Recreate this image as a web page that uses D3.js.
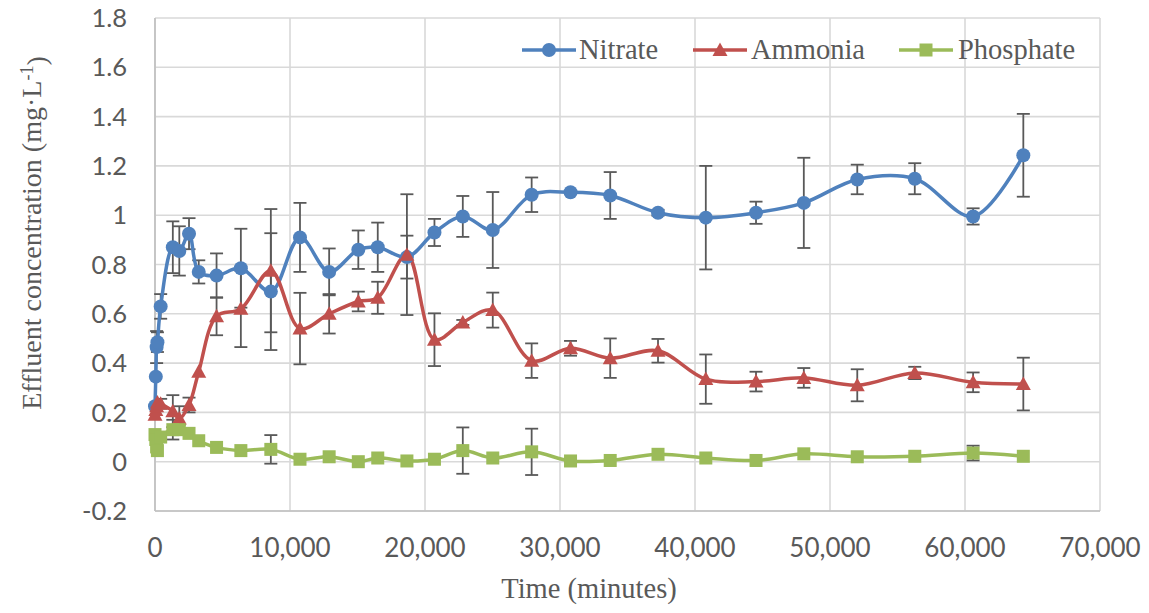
<!DOCTYPE html>
<html>
<head>
<meta charset="utf-8">
<script src="https://cdn.jsdelivr.net/npm/d3@7"></script>
<style>
  html, body { margin: 0; padding: 0; background: #fff; }
  svg { display: block; }
</style>
</head>
<body>
<svg id="chart" width="1149" height="613"></svg>
<script>
// Sampling times (minutes) shared by all three series
const timeMinutes = [0, 60, 120, 180, 420, 1320, 1800, 2520, 3240, 4560, 6360, 8580,
  10740, 12900, 15060, 16500, 18660, 20700, 22800, 25020, 27900, 30780, 33720,
  37260, 40800, 44520, 48060, 52020, 56280, 60600, 64320];

// Effluent concentrations (mg/L) and standard deviations
const nitrate = [0.225, 0.345, 0.465, 0.485, 0.63, 0.87, 0.855, 0.925, 0.77, 0.755, 0.785, 0.69,
  0.91, 0.77, 0.86, 0.87, 0.83, 0.93, 0.995, 0.94, 1.083, 1.093, 1.08,
  1.01, 0.99, 1.01, 1.05, 1.145, 1.148, 0.995, 1.243];
const nitrateSd = [0, 0, 0.065, 0.04, 0.05, 0.105, 0.1, 0.063, 0.047, 0.09, 0.16, 0.237,
  0.14, 0.095, 0.078, 0.1, 0.087, 0.055, 0.083, 0.154, 0.07, 0, 0.095,
  0.012, 0.21, 0.045, 0.183, 0.06, 0.063, 0.033, 0.168];

const ammonia = [0.19, 0.21, 0.225, 0.24, 0.235, 0.205, 0.175, 0.23, 0.365, 0.59, 0.62, 0.775,
  0.54, 0.6, 0.65, 0.665, 0.84, 0.495, 0.565, 0.615, 0.41, 0.46, 0.42,
  0.45, 0.335, 0.325, 0.34, 0.31, 0.36, 0.322, 0.315];
const ammoniaSd = [0, 0, 0, 0, 0.02, 0.065, 0.05, 0.03, 0, 0.077, 0.155, 0.25,
  0.145, 0.08, 0.04, 0.065, 0.245, 0.107, 0.01, 0.071, 0.07, 0.03, 0.08,
  0.048, 0.1, 0.04, 0.04, 0.065, 0.025, 0.04, 0.107];

const phosphate = [0.11, 0.09, 0.06, 0.045, 0.1, 0.13, 0.13, 0.115, 0.085, 0.058, 0.045, 0.05,
  0.01, 0.02, 0.0, 0.015, 0.003, 0.01, 0.045, 0.015, 0.04, 0.003, 0.005,
  0.03, 0.015, 0.005, 0.032, 0.02, 0.022, 0.035, 0.022];
const phosphateSd = [0, 0, 0, 0, 0, 0.04, 0.02, 0, 0, 0, 0, 0.058,
  0, 0, 0, 0, 0, 0, 0.094, 0, 0.094, 0, 0,
  0, 0, 0, 0, 0, 0, 0.03, 0];

// Axis ticks
const xTicks = [0, 10000, 20000, 30000, 40000, 50000, 60000, 70000];
const yTicks = [-0.2, 0, 0.2, 0.4, 0.6, 0.8, 1, 1.2, 1.4, 1.6, 1.8];
const yTickLabels = ["-0.2", "0", "0.2", "0.4", "0.6", "0.8", "1", "1.2", "1.4", "1.6", "1.8"];

const seriesNames = ["Nitrate", "Ammonia", "Phosphate"];
const seriesColors = ["#4f81bd", "#c0504d", "#9bbb59"];
const seriesShapes = ["circle", "triangle", "square"];

const series = [
  { name: seriesNames[0], values: nitrate, sd: nitrateSd, color: seriesColors[0], shape: seriesShapes[0] },
  { name: seriesNames[1], values: ammonia, sd: ammoniaSd, color: seriesColors[1], shape: seriesShapes[1] },
  { name: seriesNames[2], values: phosphate, sd: phosphateSd, color: seriesColors[2], shape: seriesShapes[2] }
];

const svg = d3.select("#chart");
const plot = { left: 155, right: 1100, top: 18, bottom: 511 };

const x = d3.scaleLinear().domain([0, 70000]).range([plot.left, plot.right]);
const y = d3.scaleLinear().domain([-0.2, 1.8]).range([plot.bottom, plot.top]);

const textGray = "#595959";
const tickFont = "Lato, 'Open Sans', sans-serif";
const titleFont = "'Liberation Serif', 'DejaVu Serif', serif";

// Gridlines
const grid = svg.append("g").attr("class", "grid");
grid.selectAll("line.h").data(yTicks).join("line")
  .attr("class", "h")
  .attr("x1", plot.left).attr("x2", plot.right)
  .attr("y1", d => y(d)).attr("y2", d => y(d))
  .attr("stroke", "#d9d9d9").attr("stroke-width", 1.6);
grid.selectAll("line.v").data(xTicks).join("line")
  .attr("class", "v")
  .attr("y1", plot.top).attr("y2", plot.bottom)
  .attr("x1", d => x(d)).attr("x2", d => x(d))
  .attr("stroke", "#d9d9d9").attr("stroke-width", 1.6);

// Axis lines
svg.append("line")
  .attr("x1", plot.left).attr("x2", plot.left)
  .attr("y1", plot.top).attr("y2", plot.bottom)
  .attr("stroke", "#bfbfbf").attr("stroke-width", 1.6);
svg.append("line")
  .attr("x1", plot.left).attr("x2", plot.right)
  .attr("y1", plot.bottom).attr("y2", plot.bottom)
  .attr("stroke", "#bfbfbf").attr("stroke-width", 1.6);

// Tick labels
svg.append("g").selectAll("text").data(yTicks).join("text")
  .attr("x", 127)
  .attr("y", d => y(d))
  .attr("dy", "0.36em")
  .attr("text-anchor", "end")
  .attr("font-family", tickFont).attr("font-size", 25.5)
  .attr("fill", textGray)
  .text((d, i) => yTickLabels[i]);

const fmtX = d3.format(",");
svg.append("g").selectAll("text").data(xTicks).join("text")
  .attr("x", d => x(d))
  .attr("y", 557)
  .attr("text-anchor", "middle")
  .attr("font-family", tickFont).attr("font-size", 26)
  .attr("fill", textGray)
  .text(d => fmtX(d));

// Axis titles
svg.append("text")
  .attr("x", 589).attr("y", 598)
  .attr("text-anchor", "middle")
  .attr("font-family", titleFont).attr("font-size", 28.5)
  .attr("fill", textGray)
  .text("Time (minutes)");

const yTitle = svg.append("text")
  .attr("transform", "translate(41,233) rotate(-90)")
  .attr("text-anchor", "middle")
  .attr("font-family", titleFont).attr("font-size", 28)
  .attr("fill", textGray);
yTitle.append("tspan").text("Effluent concentration (mg·L");
yTitle.append("tspan").attr("dy", "-0.45em").attr("font-size", 18).text("-1");
yTitle.append("tspan").attr("dy", "0.45em").text(")");

// Marker drawing
function drawMarker(sel, shape, color) {
  if (shape === "circle") {
    sel.append("circle").attr("r", 7).attr("fill", color);
  } else if (shape === "triangle") {
    sel.append("path").attr("d", "M0,-7.5L7.5,6L-7.5,6Z").attr("fill", color);
  } else {
    sel.append("rect").attr("x", -6.5).attr("y", -6.5).attr("width", 13).attr("height", 13).attr("fill", color);
  }
}

// Error bars (behind lines and markers)
const errG = svg.append("g").attr("class", "errors");
const capHalf = 6.5;
series.forEach(s => {
  const pts = timeMinutes.map((t, i) => ({ t, v: s.values[i], sd: s.sd[i] })).filter(p => p.sd > 0);
  const g = errG.append("g");
  g.selectAll("line.stem").data(pts).join("line")
    .attr("class", "stem")
    .attr("x1", p => x(p.t)).attr("x2", p => x(p.t))
    .attr("y1", p => y(p.v + p.sd)).attr("y2", p => y(p.v - p.sd));
  g.selectAll("line.capt").data(pts).join("line")
    .attr("class", "capt")
    .attr("x1", p => x(p.t) - capHalf).attr("x2", p => x(p.t) + capHalf)
    .attr("y1", p => y(p.v + p.sd)).attr("y2", p => y(p.v + p.sd));
  g.selectAll("line.capb").data(pts).join("line")
    .attr("class", "capb")
    .attr("x1", p => x(p.t) - capHalf).attr("x2", p => x(p.t) + capHalf)
    .attr("y1", p => y(p.v - p.sd)).attr("y2", p => y(p.v - p.sd));
  g.selectAll("line").attr("stroke", "#595959").attr("stroke-width", 1.8);
});

// Smoothed series lines
const line = d3.line()
  .x((d, i) => x(timeMinutes[i]))
  .y(d => y(d))
  .curve(d3.curveCatmullRom.alpha(0.5));

series.forEach(s => {
  svg.append("path")
    .datum(s.values)
    .attr("d", line)
    .attr("fill", "none")
    .attr("stroke", s.color)
    .attr("stroke-width", 3.5)
    .attr("stroke-linejoin", "round")
    .attr("stroke-linecap", "round");
});

// Markers
series.forEach(s => {
  const g = svg.append("g");
  s.values.forEach((v, i) => {
    const m = g.append("g").attr("transform", `translate(${x(timeMinutes[i])},${y(v)})`);
    drawMarker(m, s.shape, s.color);
  });
});

// Legend
const legendItems = [
  { x0: 522, tx: 579 },
  { x0: 693, tx: 751 },
  { x0: 899, tx: 958 }
];
const legendY = 50;
series.forEach((s, i) => {
  const li = legendItems[i];
  const g = svg.append("g");
  g.append("line")
    .attr("x1", li.x0).attr("x2", li.x0 + 54)
    .attr("y1", legendY).attr("y2", legendY)
    .attr("stroke", s.color).attr("stroke-width", 3.5);
  const m = g.append("g").attr("transform", `translate(${li.x0 + 27},${legendY})`);
  drawMarker(m, s.shape, s.color);
  g.append("text")
    .attr("x", li.tx).attr("y", legendY + 9)
    .attr("font-family", titleFont).attr("font-size", 28.5)
    .attr("fill", textGray)
    .text(s.name);
});
</script>
</body>
</html>
